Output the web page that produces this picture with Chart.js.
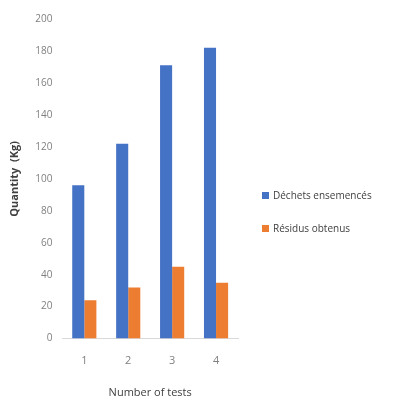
<!DOCTYPE html>
<html>
<head>
<meta charset="utf-8">
<script src="https://cdn.jsdelivr.net/npm/chart.js@4/dist/chart.umd.min.js"></script>
<style>
  html, body { margin: 0; padding: 0; background: #fff; }
  #wrap { position: relative; width: 394px; height: 399px; }
  #legend { position: absolute; left: 262px; top: 186px; font: 10px 'Open Sans', sans-serif; color: #404040; }
  #legend div { height: 18px; line-height: 18px; margin-bottom: 15px; white-space: nowrap; }
  #legend span { display: inline-block; width: 7px; height: 7px; margin-right: 4px; }
</style>
</head>
<body>
<div id="wrap">
  <canvas id="chart" width="394" height="399"></canvas>
  <div id="legend"></div>
</div>
<script>
const tests = ['1', '2', '3', '4'];
const dechets = [96, 122, 171, 182];
const residus = [24, 32, 45, 35];
const yTicks = [0, 20, 40, 60, 80, 100, 120, 140, 160, 180, 200];
const seriesNames = ['Déchets ensemencés', 'Résidus obtenus'];
const seriesColors = ['#4472C4', '#ED7D31'];

const ctx = document.getElementById('chart').getContext('2d');
const chart = new Chart(ctx, {
    type: 'bar',
    data: {
        labels: tests,
        datasets: [{
            label: seriesNames[0],
            data: dechets,
            backgroundColor: seriesColors[0],
            barPercentage: 1,
            categoryPercentage: 0.55
        }, {
            label: seriesNames[1],
            data: residus,
            backgroundColor: seriesColors[1],
            barPercentage: 1,
            categoryPercentage: 0.55
        }]
    },
    options: {
        responsive: false,
        animation: false,
        layout: { padding: { top: 19, left: 4, right: 156, bottom: 0 } },
        plugins: {
            legend: { display: false },
            tooltip: { enabled: false }
        },
        scales: {
            x: {
                grid: { display: false, drawTicks: false },
                border: { color: '#d9d9d9' },
                ticks: { color: '#7f7f7f', padding: 16, font: { family: 'Open Sans', size: 11 } },
                title: {
                    display: true,
                    text: 'Number of tests',
                    color: '#404040',
                    padding: { top: 2, bottom: 0 },
                    font: { family: 'Open Sans', size: 11 }
                }
            },
            y: {
                min: 0,
                max: 200,
                afterBuildTicks: axis => { axis.ticks = yTicks.map(v => ({ value: v })); },
                grid: { display: false, drawTicks: false },
                border: { display: false },
                ticks: { color: '#7f7f7f', padding: 10, font: { family: 'Open Sans', size: 10 } },
                title: {
                    display: true,
                    text: 'Quantity  (Kg)',
                    color: '#404040',
                    padding: { bottom: 4 },
                    font: { family: 'Open Sans', size: 11, weight: 'bold' }
                }
            }
        }
    }
});

// HTML legend built from the chart's datasets
const legendEl = document.getElementById('legend');
chart.data.datasets.forEach(ds => {
    const row = document.createElement('div');
    row.innerHTML = `<span style="background:${ds.backgroundColor}"></span>${ds.label}`;
    legendEl.appendChild(row);
});
</script>
</body>
</html>
